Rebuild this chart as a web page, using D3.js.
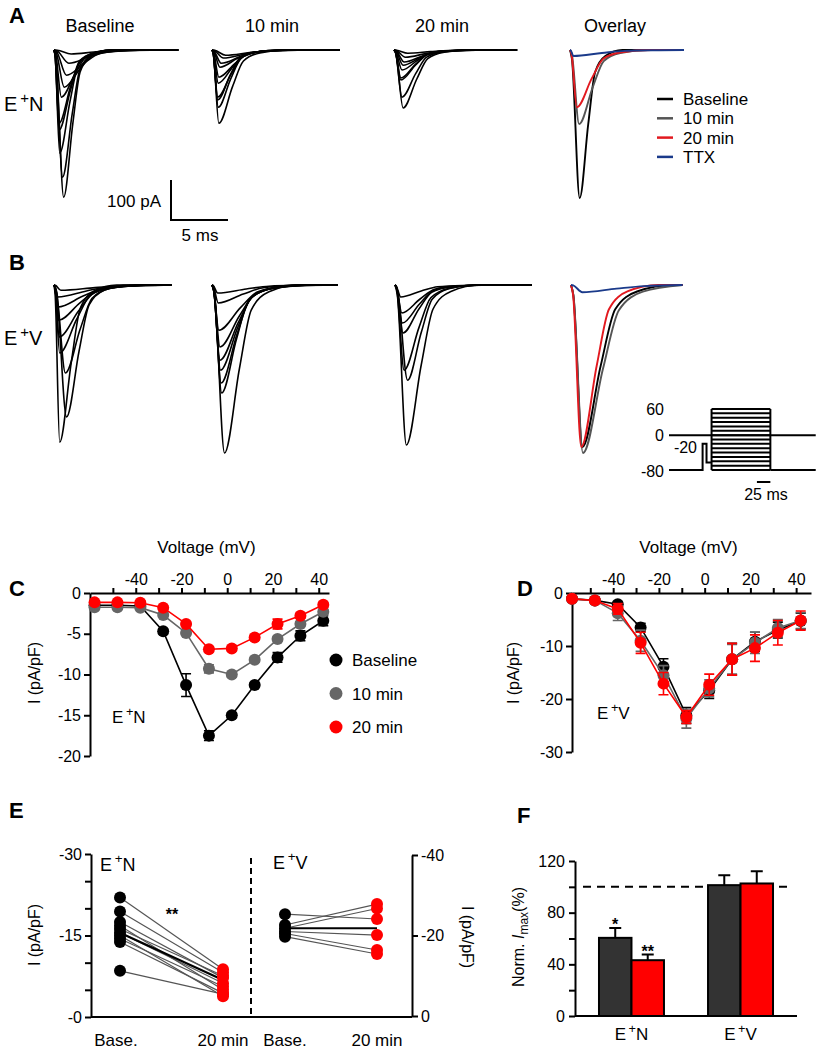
<!DOCTYPE html>
<html>
<head>
<meta charset="utf-8">
<script src="https://cdn.jsdelivr.net/npm/d3@7"></script>
<style>
body{margin:0;background:#fff}
text{font-family:"Liberation Sans",Arial,Helvetica,sans-serif}
</style>
</head>
<body>
<svg id="fig" width="820" height="1050"></svg>
<script>
// ---------- data ----------
// A/B current traces: [peak (pA), time to peak (ms), half-decay time (ms)]
var aBaseline = [[368,0.85,0.8],[318,0.75,0.85],[258,0.5,0.9],[200,0.45,1.0],[183,0.45,1.0],[118,0.65,1.2],[93,0.9,1.4],[63,1.1,1.6],[33,1.3,1.8],[10,1.5,2.0]];
var a10min = [[183,0.6,1.2],[143,0.55,1.1],[125,0.5,1.1],[118,0.5,1.2],[83,0.55,1.3],[68,0.6,1.4],[43,0.7,1.5],[33,0.8,1.7],[20,1.0,1.9],[13,1.2,2.1]];
var a20min = [[145,0.8,1.2],[118,0.7,1.2],[75,0.6,1.3],[70,0.6,1.3],[50,0.7,1.4],[38,0.8,1.5],[30,0.9,1.6],[18,1.0,1.8],[8,1.2,2.0]];
var aOverlay = [[370,0.85,0.75],[185,0.8,1.2],[143,0.6,1.3],[15,0.3,2.5]];
var bBaseline = [[393,0.5,1.0],[330,1.1,1.1],[220,1.0,1.3],[170,0.5,1.5],[130,0.45,1.7],[88,0.4,1.9],[55,0.35,2.2],[30,0.35,2.5],[13,0.6,3.0]];
var b10min = [[420,1.1,1.3],[270,0.85,1.3],[245,0.8,1.4],[213,0.75,1.5],[188,0.7,1.6],[155,0.7,1.7],[113,0.6,1.9],[45,0.55,2.2],[20,0.5,2.5]];
var b20min = [[400,1.0,1.3],[238,1.1,1.2],[213,0.8,1.3],[120,0.7,1.4],[95,0.65,1.5],[70,0.6,1.6],[30,0.5,1.8]];
var bOverlay = [[405,1.0,1.6],[420,1.05,1.75],[405,0.9,1.35],[18,1.0,3.0]];
var colTitles = ["Baseline", "10 min", "20 min", "Overlay"];
var overlayNames = ["Baseline", "10 min", "20 min", "TTX"];
var overlayColors = ["#000000", "#555555", "#e2191f", "#1a3a8a"];

// voltage protocol (mV)
var stepLevels = [60,50,40,30,20,10,0,-10,-20,-30,-40,-50,-60,-70,-80];
var protoHold = [[0,-80],[60,-80],[60,-20],[67,-20],[67,-63],[76,-63]]; // [ms, mV]
var protoStep = [76, 181];
var protoEnd = 262;

// C / D: I-V curves (pA/pF)
var ivVolt = [-58,-48,-38,-28,-18,-8,2,12,22,32,42];
var seriesNames = ["Baseline", "10 min", "20 min"];
var seriesColors = ["#000000", "#666666", "#ff0000"];
var cBase = [-1.5,-1.5,-1.6,-4.7,-11.3,-17.5,-15.0,-11.3,-7.9,-5.25,-3.4];
var cBaseErr = [0.2,0.2,0.2,0.3,1.4,0.6,0.3,0.3,0.6,0.6,0.6];
var c10 = [-1.75,-1.75,-1.8,-2.7,-4.9,-9.3,-10.0,-8.2,-5.65,-3.8,-2.3];
var c10Err = [0.2,0.2,0.2,0.2,0.3,0.5,0.3,0.3,0.3,0.3,0.3];
var c20 = [-1.15,-1.15,-1.2,-1.8,-3.8,-6.9,-6.8,-5.45,-3.8,-2.8,-1.45];
var c20Err = [0.2,0.2,0.2,0.2,0.3,0.3,0.3,0.3,0.6,0.3,0.3];
var dBase = [-1.1,-1.4,-2.1,-6.5,-13.9,-23.1,-18.4,-12.5,-9.2,-7.0,-5.3];
var dBaseErr = [0.3,0.3,0.5,0.8,1.5,1.5,1.5,3.0,1.8,1.5,1.5];
var d10 = [-1.1,-1.4,-3.8,-9.0,-15.5,-23.7,-18.0,-12.5,-9.4,-6.6,-5.2];
var d10Err = [0.3,0.3,1.4,2.0,1.8,1.8,1.6,2.8,2.0,1.6,1.5];
var d20 = [-1.1,-1.4,-3.0,-9.4,-17.1,-23.4,-17.3,-12.5,-10.4,-7.5,-5.2];
var d20Err = [0.3,0.3,1.0,2.0,2.1,1.2,2.0,3.0,2.5,2.3,1.8];

// E: single cells, baseline vs 20 min (pA/pF)
var eNBase = [-22.0,-19.4,-17.5,-16.8,-16.2,-15.5,-15.0,-14.4,-13.8,-8.5];
var eN20 = [-8.8,-8.2,-7.2,-5.0,-7.6,-6.2,-3.8,-5.6,-4.4,-4.2];
var eNMean = [-15.5,-6.8];
var eVBase = [-25.3,-22.6,-21.8,-21.0,-20.5,-19.7];
var eV20 = [-24.1,-27.8,-26.7,-20.1,-16.4,-15.4];
var eVMean = [-21.8,-21.8];
var eCats = ["Base.", "20 min"];

// F: normalised Imax (%)
var fGroups = ["N", "V"];
var f10 = [60.5, 101.3];
var f10Err = [7.7, 7.7];
var f20 = [43.2, 102.6];
var f20Err = [4.4, 9.4];
var fStars10 = ["*", ""];
var fStars20 = ["**", ""];

// ---------- helpers ----------
var svg = d3.select("#fig");

function txt(x, y, s, size, anchor, weight) {
  return svg.append("text").attr("x", x).attr("y", y).attr("font-size", size)
    .attr("text-anchor", anchor || "start").attr("font-weight", weight || "normal").text(s);
}
function ePlus(parent, x, y, letter, size, anchor) {
  var t = parent.append("text").attr("x", x).attr("y", y).attr("font-size", size)
    .attr("text-anchor", anchor || "start");
  t.append("tspan").text("E");
  t.append("tspan").attr("dx", size * 0.15).attr("dy", -size * 0.42).attr("font-size", size * 0.75).text("+");
  t.append("tspan").attr("dy", size * 0.42).text(letter);
  return t;
}
function styleAxis(g, size) {
  g.select(".domain").attr("stroke-width", 2);
  g.selectAll(".tick line").attr("stroke-width", 2);
  g.selectAll("text").attr("font-size", size).attr("font-family", "Liberation Sans, Arial, sans-serif").attr("fill", "#000");
}
function yLabel(x, y, rot, size) {
  return svg.append("text").attr("transform", "translate(" + x + "," + y + ") rotate(" + rot + ")")
    .attr("text-anchor", "middle").attr("font-size", size);
}

// panel letters
[["A",9,23],["B",9,270],["C",9,596],["D",517,596],["E",9,818],["F",517,823]].forEach(function (p) {
  txt(p[1], p[2], p[0], 22, "start", "bold");
});

// ---------- A / B traces ----------
var msScale = d3.scaleLinear().domain([0, 5]).range([0, 57]);     // 5 ms bar = 57 px
var paScale = d3.scaleLinear().domain([0, -100]).range([0, 40]);  // 100 pA bar = 40 px
var traceLine = d3.line().x(function (d) { return msScale(d[0]); })
  .y(function (d) { return paScale(d[1]); }).curve(d3.curveMonotoneX);

function traceShape(tr, tEnd) {
  var amp = tr[0], tp = tr[1], th = tr[2];
  var pts = [[0, 0], [tp * 0.2, -amp * 0.06], [tp, -amp], [tp + th, -amp * 0.5],
             [tp + 1.8 * th, -amp * 0.15], [tp + 3 * th, -amp * 0.04], [tp + 5 * th, 0]];
  pts = pts.filter(function (p) { return p[0] < tEnd; });
  pts.push([tEnd, 0]);
  return pts;
}

function drawTraces(sets, x0s, y0, ends) {
  sets.forEach(function (set, c) {
    var g = svg.append("g").attr("transform", "translate(" + x0s[c] + "," + y0 + ")");
    g.selectAll("path").data(set).enter().append("path")
      .attr("d", function (d) { return traceLine(traceShape(d, ends[c])); })
      .attr("fill", "none")
      .attr("stroke", function (d, i) { return c === 3 ? overlayColors[i] : "#000"; })
      .attr("stroke-width", function (d, i) { return c === 3 ? 1.9 : 1.6; });
  });
}

colTitles.forEach(function (t, i) { txt([100, 272, 442, 615][i], 32, t, 18, "middle"); });
drawTraces([aBaseline, a10min, a20min, aOverlay], [54, 212, 394, 570], 50, [10.9, 11.2, 10.8, 10.0]);
drawTraces([bBaseline, b10min, b20min, bOverlay], [54, 212, 395, 571], 285, [10.3, 11.05, 12.0, 9.8]);
ePlus(svg, 4, 111, "N", 20);
ePlus(svg, 4, 345, "V", 20);

// overlay legend
var leg = svg.append("g");
overlayNames.forEach(function (n, i) {
  var yy = 99 + i * 19.3;
  leg.append("line").attr("x1", 657).attr("x2", 673).attr("y1", yy).attr("y2", yy)
    .attr("stroke", overlayColors[i]).attr("stroke-width", 2.5);
  leg.append("text").attr("x", 683).attr("y", yy + 6).attr("font-size", 17).text(n);
});

// scale bar
svg.append("path").attr("d", "M171," + (220 - paScale(-100)) + "V220H" + (171 + msScale(5)))
  .attr("fill", "none").attr("stroke", "#000").attr("stroke-width", 2);
txt(161, 207, "100 pA", 17, "end");
txt(200, 241, "5 ms", 17, "middle");

// voltage protocol inset
var pt = d3.scaleLinear().domain([0, 25]).range([669, 683]);
var pv = d3.scaleLinear().domain([-80, 60]).range([470, 409]);
var pg = svg.append("g").attr("fill", "none").attr("stroke", "#000").attr("stroke-width", 2);
pg.append("line").attr("x1", pt(0)).attr("x2", pt(protoEnd)).attr("y1", pv(0)).attr("y2", pv(0));
pg.append("path").attr("d", d3.line().x(function (d) { return pt(d[0]); }).y(function (d) { return pv(d[1]); })(protoHold));
pg.selectAll("line.step").data(stepLevels).enter().append("line").attr("class", "step")
  .attr("x1", pt(protoStep[0])).attr("x2", pt(protoStep[1]))
  .attr("y1", function (d) { return pv(d); }).attr("y2", function (d) { return pv(d); });
pg.append("line").attr("x1", pt(protoStep[0])).attr("x2", pt(protoStep[0])).attr("y1", pv(60)).attr("y2", pv(-80));
pg.append("line").attr("x1", pt(protoStep[1])).attr("x2", pt(protoStep[1])).attr("y1", pv(60)).attr("y2", pv(-80));
pg.append("line").attr("x1", pt(protoStep[1])).attr("x2", pt(protoEnd)).attr("y1", pv(-80)).attr("y2", pv(-80));
pg.append("line").attr("x1", pt(157)).attr("x2", pt(181)).attr("y1", 482).attr("y2", 482);
txt(664, pv(60) + 6, "60", 16, "end");
txt(664, pv(0) + 6, "0", 16, "end");
txt(697, 453, "-20", 16, "end");
txt(664, pv(-80) + 7, "-80", 16, "end");
txt(766, 500, "25 ms", 16, "middle");

// ---------- C / D: I-V ----------
function drawIV(xs, ys, yTicks, data, errs, labelX) {
  var ax = svg.append("g").attr("transform", "translate(0," + ys(0) + ")")
    .call(d3.axisTop(xs).tickValues([-50,-40,-30,-20,-10,0,10,20,30,40]).tickSize(5).tickPadding(3).tickSizeOuter(0)
      .tickFormat(function (d) { return d % 20 === 0 ? String(d) : ""; }));
  styleAxis(ax, 16);
  var ay = svg.append("g").attr("transform", "translate(" + xs.range()[0] + ",0)")
    .call(d3.axisLeft(ys).tickValues(yTicks).tickSize(6).tickPadding(3).tickSizeOuter(0)
      .tickFormat(function (d) { return String(d); }));
  styleAxis(ay, 16);
  txt((xs.range()[0] + xs.range()[1]) / 2 - 3, 553, "Voltage (mV)", 17, "middle");
  yLabel(labelX, 673, -90, 16).text("I (pA/pF)");
  var line = d3.line().x(function (d, i) { return xs(ivVolt[i]); }).y(function (d) { return ys(d); });
  data.forEach(function (s, k) {
    var col = seriesColors[k];
    var g = svg.append("g");
    g.append("path").attr("d", line(s)).attr("fill", "none").attr("stroke", col).attr("stroke-width", 1.6);
    s.forEach(function (v, i) {
      var e = errs[k][i], cx = xs(ivVolt[i]);
      g.append("path").attr("d", "M" + cx + "," + ys(v - e) + "V" + ys(v + e) +
        "M" + (cx - 5) + "," + ys(v - e) + "H" + (cx + 5) + "M" + (cx - 5) + "," + ys(v + e) + "H" + (cx + 5))
        .attr("stroke", col).attr("stroke-width", 1.6).attr("fill", "none");
    });
    g.selectAll("circle").data(s).enter().append("circle")
      .attr("cx", function (d, i) { return xs(ivVolt[i]); }).attr("cy", function (d) { return ys(d); })
      .attr("r", 6).attr("fill", col);
  });
}

var xC = d3.scaleLinear().domain([-60, 44.5]).range([90, 329]);
var yC = d3.scaleLinear().domain([0, -20]).range([593, 756]);
drawIV(xC, yC, [0,-5,-10,-15,-20], [cBase, c10, c20], [cBaseErr, c10Err, c20Err], 40);
ePlus(svg, 112, 723, "N", 17);
seriesNames.forEach(function (n, i) {
  var yy = 660 + i * 33.5;
  svg.append("circle").attr("cx", 336).attr("cy", yy).attr("r", 6.5).attr("fill", seriesColors[i]);
  txt(352, yy + 6, n, 17);
});

var xD = d3.scaleLinear().domain([-58, 46.5]).range([572, 811]);
var yD = d3.scaleLinear().domain([0, -30]).range([593, 752]);
drawIV(xD, yD, [0,-10,-20,-30], [dBase, d10, d20], [dBaseErr, d10Err, d20Err], 519);
ePlus(svg, 597, 719, "V", 17);

// ---------- E: paired cells ----------
var yEL = d3.scaleLinear().domain([0, -30]).range([1017, 854]);
var yER = d3.scaleLinear().domain([0, -40]).range([1016, 855]);
var xEN = d3.scalePoint().domain(eCats).range([120, 223]);
var xEV = d3.scalePoint().domain(eCats).range([285, 377]);

var eL = svg.append("g").attr("transform", "translate(91,0)")
  .call(d3.axisLeft(yEL).tickValues([0,-5,-10,-15,-20,-25,-30]).tickSize(6).tickPadding(3).tickSizeOuter(0)
    .tickFormat(function (d) { return d === 0 ? "-0" : (d % 15 === 0 ? String(d) : ""); }));
styleAxis(eL, 16);
var eR = svg.append("g").attr("transform", "translate(412,0)")
  .call(d3.axisRight(yER).tickValues([0,-20,-40]).tickSize(6).tickPadding(3).tickSizeOuter(0)
    .tickFormat(function (d) { return String(d); }));
styleAxis(eR, 16);
svg.append("line").attr("x1", 91).attr("x2", 412).attr("y1", 1017).attr("y2", 1017)
  .attr("stroke", "#000").attr("stroke-width", 2);
svg.append("line").attr("x1", 251).attr("x2", 251).attr("y1", 858).attr("y2", 1017)
  .attr("stroke", "#000").attr("stroke-width", 2).attr("stroke-dasharray", "6,4");
yLabel(40, 935, -90, 16).text("I (pA/pF)");
yLabel(462, 937, 90, 16).text("I (pA/pF)");
eCats.forEach(function (c) {
  txt(xEN(c) - (c === "Base." ? 4 : 0), 1046, c, 17, "middle");
  txt(xEV(c), 1046, c, 17, "middle");
});
ePlus(svg, 100, 871, "N", 18);
ePlus(svg, 273, 869, "V", 18);
txt(172, 920, "**", 16, "middle", "bold");

function drawPairs(xs, ys, base, after, mean) {
  var g = svg.append("g");
  base.forEach(function (b, i) {
    g.append("line").attr("x1", xs(eCats[0])).attr("x2", xs(eCats[1]))
      .attr("y1", ys(b)).attr("y2", ys(after[i])).attr("stroke", "#555").attr("stroke-width", 1.2);
  });
  g.append("line").attr("x1", xs(eCats[0])).attr("x2", xs(eCats[1]))
    .attr("y1", ys(mean[0])).attr("y2", ys(mean[1])).attr("stroke", "#000").attr("stroke-width", 2.2);
  g.selectAll("circle.b").data(base).enter().append("circle").attr("class", "b")
    .attr("cx", xs(eCats[0])).attr("cy", function (d) { return ys(d); }).attr("r", 6).attr("fill", "#000");
  g.selectAll("circle.a").data(after).enter().append("circle").attr("class", "a")
    .attr("cx", xs(eCats[1])).attr("cy", function (d) { return ys(d); }).attr("r", 6).attr("fill", "#ff0000");
}
drawPairs(xEN, yEL, eNBase, eN20, eNMean);
drawPairs(xEV, yER, eVBase, eV20, eVMean);

// ---------- F: normalised Imax ----------
var yF = d3.scaleLinear().domain([0, 120]).range([1016, 861]);
var xF = d3.scaleBand().domain(fGroups).range([575, 797]).paddingInner(0.404).paddingOuter(0.22);
var xSub = d3.scaleBand().domain([0, 1]).range([0, xF.bandwidth()]);
var fAx = svg.append("g").attr("transform", "translate(575,0)")
  .call(d3.axisLeft(yF).tickValues([0,20,40,60,80,100,120]).tickSize(6).tickPadding(4).tickSizeOuter(0)
    .tickFormat(function (d) { return d % 40 === 0 ? String(d) : ""; }));
styleAxis(fAx, 16);
svg.append("line").attr("x1", 575).attr("x2", 797).attr("y1", 1016).attr("y2", 1016)
  .attr("stroke", "#000").attr("stroke-width", 2);
svg.append("line").attr("x1", 583).attr("x2", 790).attr("y1", yF(100)).attr("y2", yF(100))
  .attr("stroke", "#000").attr("stroke-width", 2).attr("stroke-dasharray", "8,6");

[[f10, f10Err, "#333333", fStars10], [f20, f20Err, "#ff0000", fStars20]].forEach(function (s, k) {
  fGroups.forEach(function (gname, i) {
    var x0 = xF(gname) + xSub(k), w = xSub.bandwidth(), cx = x0 + w / 2;
    var top = yF(s[0][i]), et = yF(s[0][i] + s[1][i]);
    svg.append("path").attr("d", "M" + cx + "," + top + "V" + et + "M" + (cx - 6) + "," + et + "H" + (cx + 6))
      .attr("stroke", "#000").attr("stroke-width", 2).attr("fill", "none");
    svg.append("rect").attr("x", x0).attr("y", top).attr("width", w).attr("height", yF(0) - top)
      .attr("fill", s[2]).attr("stroke", "#000").attr("stroke-width", 2);
    if (s[3][i]) txt(cx, et + 2, s[3][i], 16, "middle", "bold");
  });
});
fGroups.forEach(function (gname) {
  ePlus(svg, xF(gname) + xF.bandwidth() / 2, 1040, gname, 17, "middle");
});
var fl = yLabel(524, 937, -90, 16);
fl.append("tspan").text("Norm. ");
fl.append("tspan").attr("font-style", "italic").text("I");
fl.append("tspan").attr("font-size", 12).attr("dy", 4).text("max");
fl.append("tspan").attr("dy", -4).text("(%)");
</script>
</body>
</html>
